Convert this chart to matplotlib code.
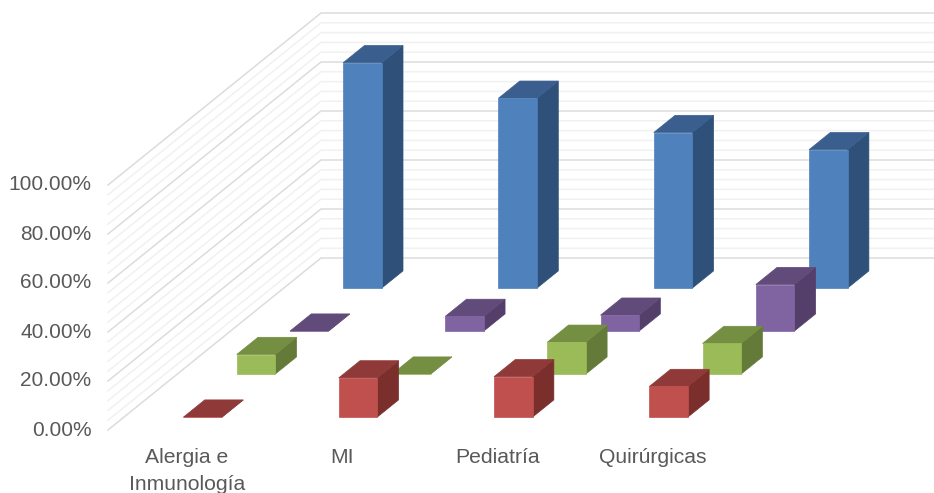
import matplotlib
matplotlib.use("Agg")
import matplotlib.pyplot as plt
from matplotlib.patches import Polygon
from matplotlib.transforms import ScaledTranslation

categories = ['Alergia e\nInmunología', 'MI', 'Pediatría', 'Quirúrgicas']
# stacked from the front row to the back row of the 3D chart
rojo = [0.0, 16.0, 16.5, 12.5]
verde = [8.0, 0.0, 13.0, 12.5]
morado = [0.0, 6.0, 6.5, 19.0]
azul = [92.0, 77.5, 63.5, 56.5]

# colours: front, top, side
colores_rojo = ('#C0504D', '#8F3A38', '#7A2F2D')
colores_verde = ('#9BBB59', '#748E42', '#647A38')
colores_morado = ('#8064A2', '#614B7A', '#533F69')
colores_azul = ('#4F81BD', '#3A5F8E', '#2F5078')

# oblique depth: one row of depth moves this far along x (categories) and y (percent)
DX = 53.25 / 155.3
DY = 43.0 / 2.45
N_ROWS = 4
BAR_W = 0.248
BAR_D = 0.4
X_MIN, X_MAX = -0.507, 4.812


def proj(c, d, v):
    return (c + d * DX, v + d * DY)


def bar3d(ax, c, row, val, cols):
    x0, x1 = c - BAR_W / 2, c + BAR_W / 2
    d0 = row + (1 - BAR_D) / 2
    d1 = d0 + BAR_D
    front = [proj(x0, d0, 0), proj(x1, d0, 0), proj(x1, d0, val), proj(x0, d0, val)]
    top = [proj(x0, d0, val), proj(x1, d0, val), proj(x1, d1, val), proj(x0, d1, val)]
    side = [proj(x1, d0, 0), proj(x1, d1, 0), proj(x1, d1, val), proj(x1, d0, val)]
    for pts, col in ((side, cols[2]), (top, cols[1]), (front, cols[0])):
        ax.add_patch(Polygon(pts, closed=True, facecolor=col, edgecolor=col,
                             linewidth=0.5, clip_on=False, zorder=3))


W, H = 934, 493
fig = plt.figure(figsize=(W / 100, H / 100), dpi=100)
ax = fig.add_axes([108 / W, (H - 430) / H, 826 / W, 245 / H])
ax.set_xlim(X_MIN, X_MAX)
ax.set_ylim(0, 100)
for s in ax.spines.values():
    s.set_visible(False)

# side wall and back wall grid
for v in range(0, 101, 4):
    major = v % 20 == 0
    col = '#DCDCDC' if major else '#F1F1F1'
    p0 = proj(X_MIN, 0, v)
    p1 = proj(X_MIN, N_ROWS, v)
    p2 = proj(X_MAX, N_ROWS, v)
    ax.plot([p0[0], p1[0], p2[0]], [p0[1], p1[1], p2[1]], color=col, lw=1.1,
            clip_on=False, zorder=2 if major else 1, solid_joinstyle='miter')

# back row first so nearer bars cover it
rows = [(3, azul, colores_azul), (2, morado, colores_morado),
        (1, verde, colores_verde), (0, rojo, colores_rojo)]
for row, vals, cols in rows:
    for i, val in enumerate(vals):
        bar3d(ax, i, row, val, cols)

fuente = ['Liberation Sans', 'DejaVu Sans']
ax.set_yticks(range(0, 101, 20))
ax.set_yticklabels(['%.2f%%' % v for v in range(0, 101, 20)], family=fuente,
                   fontsize=15, color='#595959')
ax.set_xticks(range(len(categories)))
ax.set_xticklabels(categories, family=fuente, fontsize=15.2, color='#595959',
                   linespacing=1.55)
ax.tick_params(axis='y', length=0, pad=12)
ax.tick_params(axis='x', length=0, pad=13)

# value labels sit slightly above their gridline
up = ScaledTranslation(0, 0.02, fig.dpi_scale_trans)
for lab in ax.get_yticklabels():
    lab.set_transform(lab.get_transform() + up)

fig.savefig('out.png', dpi=100)
